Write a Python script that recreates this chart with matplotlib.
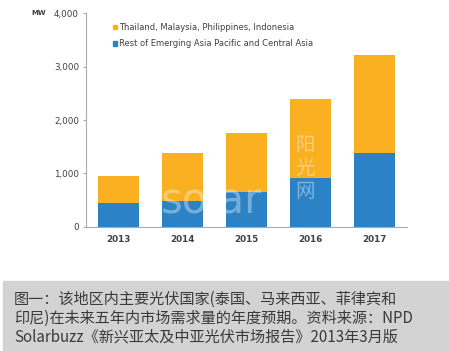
import matplotlib.pyplot as plt
import matplotlib.patches as mpatches

years = ["2013", "2014", "2015", "2016", "2017"]
rest_asia = [440, 480, 645, 920, 1375]
thai_group_total = [955, 1390, 1750, 2390, 3220]
thai_group = [t - r for t, r in zip(thai_group_total, rest_asia)]
yticks = [0, 1000, 2000, 3000, 4000]
ytick_labels = ["0", "1,000", "2,000", "3,000", "4,000"]

orange = "#F9B122"
blue = "#2B83C6"
grey_txt = "#404040"

fig = plt.figure(figsize=(4.49, 3.51), dpi=100)
ax = fig.add_axes([0.1915, 0.354, 0.715, 0.608])

x = range(len(years))
ax.bar(x, rest_asia, width=0.64, color=blue, zorder=2)
ax.bar(x, thai_group, width=0.64, bottom=rest_asia, color=orange, zorder=2)

ax.set_xlim(-0.5, 4.5)
ax.set_ylim(0, 4000)
ax.set_yticks(yticks)
ax.set_yticklabels(ytick_labels, fontsize=6.3, color=grey_txt)
ax.set_xticks(list(x))
ax.set_xticklabels(years, fontsize=6.3, color=grey_txt, fontweight="bold")
ax.tick_params(axis="x", length=0, pad=6)
ax.tick_params(axis="y", length=2.5, color="#aaaaaa", pad=2.5)
for s in ["top", "right"]:
    ax.spines[s].set_visible(False)
ax.spines["left"].set_color("#aaaaaa")
ax.spines["bottom"].set_color("#aaaaaa")

fig.text(31 / 449, 1 - 13 / 351, "MW", fontsize=5, fontweight="bold",
         color=grey_txt, va="center")

handles = [mpatches.Patch(color=orange, label="Thailand, Malaysia, Philippines, Indonesia"),
           mpatches.Patch(color=blue, label="Rest of Emerging Asia Pacific and Central Asia")]
ax.legend(handles=handles, loc="upper left", bbox_to_anchor=(0.06, 0.99),
          frameon=False, fontsize=6, handlelength=0.5, handleheight=0.5,
          handletextpad=0.3, labelspacing=0.9, labelcolor=grey_txt)

# watermark
fig.text(0.47, 0.43, "solar", fontsize=30, color="white", alpha=0.35,
         ha="center", va="center", zorder=5)
fig.text(0.68, 0.52, "阳\n光\n网", fontsize=14, color="white", alpha=0.4,
         ha="center", va="center", linespacing=1.1,
         family=["Noto Sans CJK SC", "DejaVu Sans"], zorder=5)

# caption box
fig.patches.append(mpatches.Rectangle((3 / 449, 0), 1, 70 / 351,
                                      transform=fig.transFigure,
                                      color="#d3d3d3", zorder=0))
caption = ("图一：该地区内主要光伏国家(泰国、马来西亚、菲律宾和\n"
           "印尼)在未来五年内市场需求量的年度预期。资料来源：NPD\n"
           "Solarbuzz《新兴亚太及中亚光伏市场报告》2013年3月版")
fig.text(14 / 449, 1 - 318 / 351, caption, fontsize=10.9, color="#3a3a3a",
         va="center", ha="left", linespacing=1.13,
         family=["Noto Sans CJK SC", "DejaVu Sans"])

fig.savefig("out.png", dpi=100)
